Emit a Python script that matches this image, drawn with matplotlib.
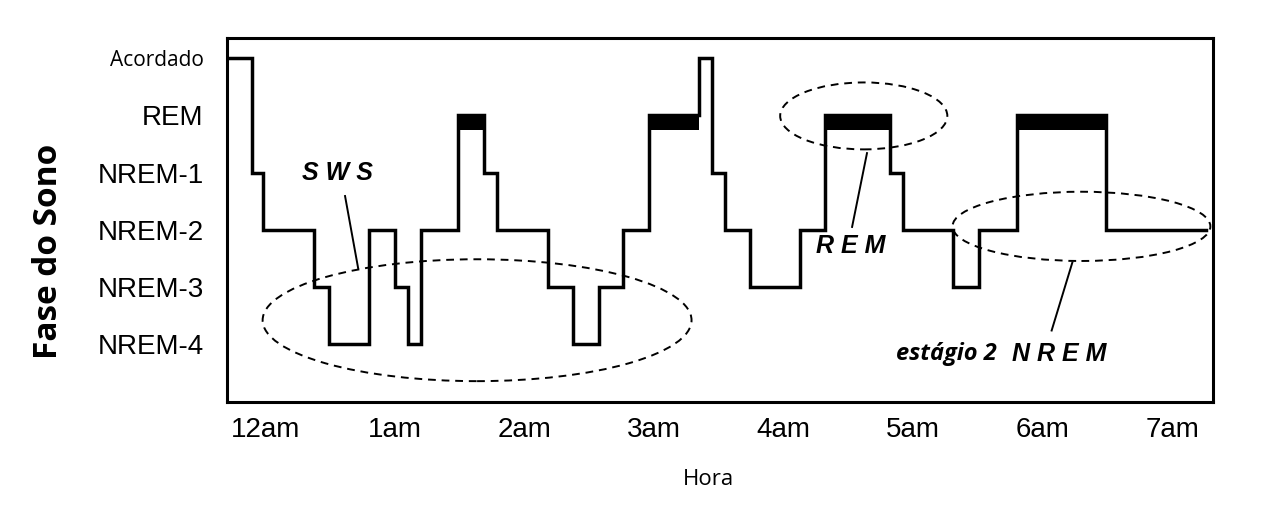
import matplotlib
matplotlib.use("Agg")
import matplotlib.pyplot as plt
from matplotlib.patches import Ellipse

# estágios (0 = NREM-4 ... 5 = Acordado)
stage_names = ["NREM-4", "NREM-3", "NREM-2", "NREM-1", "REM", "Acordado"]
hour_labels = ["12am", "1am", "2am", "3am", "4am", "5am", "6am", "7am"]

# início de cada segmento (horas desde 0h) e estágio
t_start = [-0.29, -0.10, -0.02, 0.38, 0.49, 0.80, 1.00, 1.10, 1.20, 1.49,
           1.69, 1.79, 2.18, 2.38, 2.58, 2.76, 2.96, 3.35, 3.45, 3.55,
           3.74, 4.13, 4.32, 4.82, 4.92, 5.31, 5.51, 5.80, 6.49]
stage = [5, 3, 2, 1, 0, 2, 1, 0, 2, 4,
         3, 2, 1, 0, 1, 2, 4, 5, 3, 2,
         1, 2, 4, 3, 2, 1, 2, 4, 2]
t_end = 7.26

REM = 4

fig = plt.figure(figsize=(12.76, 5.29), dpi=100)
ax = fig.add_axes([0.178, 0.240, 0.7726, 0.688])

xs = t_start + [t_end]
ys = stage + [stage[-1]]
ax.step(xs, ys, where="post", color="black", lw=2.5, solid_joinstyle="miter")

# barras grossas do sono REM
for i, s in enumerate(stage):
    if s == REM:
        ax.fill_between([xs[i], xs[i + 1]], REM - 0.25, REM + 0.02, color="black", lw=0)

# elipses tracejadas
dash = (0, (4, 3))
for c, w, h in [((1.636, 0.42), 3.31, 2.13),
                ((4.62, 3.99), 1.29, 1.17),
                ((6.30, 2.06), 1.99, 1.21)]:
    ax.add_patch(Ellipse(c, w, h, fill=False, ls=dash, lw=1.4, color="black"))

# indicações
ax.plot([0.617, 0.718], [2.59, 1.33], color="black", lw=1.4)
ax.plot([4.645, 4.53], [3.34, 2.05], color="black", lw=1.4)
ax.plot([6.23, 6.07], [1.43, 0.24], color="black", lw=1.4)

lab = dict(family=["Liberation Sans", "DejaVu Sans"], fontsize=18,
           fontweight="bold", fontstyle="italic", ha="center", va="center")
ax.text(0.556, 3.0, "S W S", **lab)
ax.text(4.52, 1.71, "R E M", **lab)
ax.text(6.13, -0.17, "N R E M", **lab)
ax.text(5.26, -0.17, "estágio 2", family=["Open Sans", "DejaVu Sans"],
        fontsize=17, fontweight="bold", fontstyle="italic", ha="center", va="center")

ax.set_xlim(-0.293, 7.315)
ax.set_ylim(-1.01, 5.35)
ax.set_xticks(range(len(hour_labels)))
ax.set_xticklabels(hour_labels, family="Liberation Sans", fontsize=20)
ax.set_yticks(range(len(stage_names)))
ax.set_yticklabels(stage_names, family="Liberation Sans", fontsize=20)
for t in ax.get_yticklabels():
    if t.get_text() == "Acordado":
        t.set_fontfamily("Open Sans")
        t.set_fontsize(15)
ax.tick_params(length=0)
ax.tick_params(axis="y", pad=17)
ax.tick_params(axis="x", pad=11)
for sp in ax.spines.values():
    sp.set_linewidth(2.2)

fig.text(0.038, 0.524, "Fase do Sono", rotation=90, ha="center", va="center",
         family="Open Sans", fontweight="bold", fontsize=24)
fig.text(0.555, 0.094, "Hora", ha="center", va="center",
         family="Open Sans", fontsize=16)

fig.savefig("out.png", dpi=100)
